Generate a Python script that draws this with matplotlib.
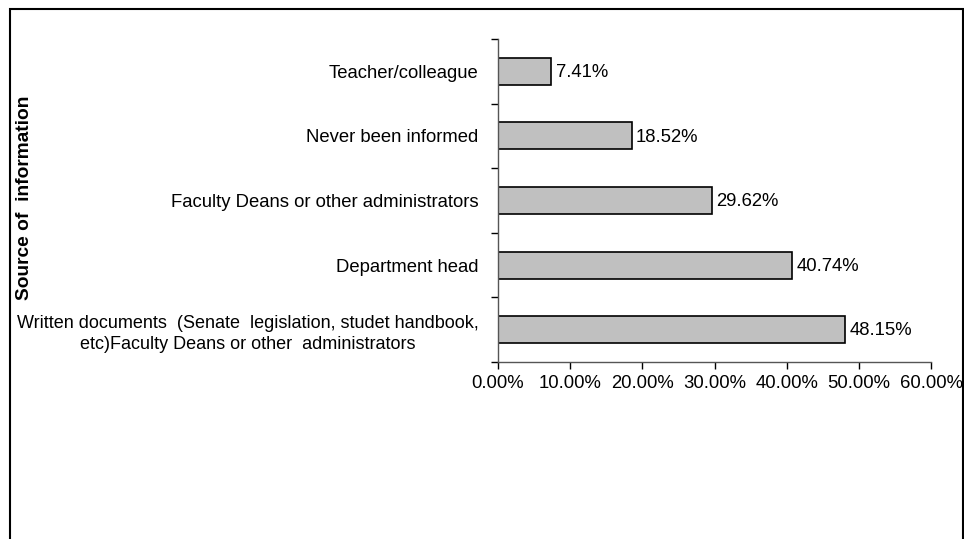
import matplotlib
matplotlib.use("Agg")
import matplotlib.pyplot as plt
from matplotlib.patches import Rectangle
from matplotlib.ticker import FuncFormatter, MultipleLocator

categories = [
    "Written documents  (Senate  legislation, studet handbook,\netc)Faculty Deans or other  administrators",
    "Department head",
    "Faculty Deans or other administrators",
    "Never been informed",
    "Teacher/colleague",
]
values = [48.15, 40.74, 29.62, 18.52, 7.41]
value_labels = ["48.15%", "40.74%", "29.62%", "18.52%", "7.41%"]

plt.rcParams['font.family'] = ['Liberation Sans', 'DejaVu Sans']
fs = 13.3

fig = plt.figure(figsize=(9.64, 5.39), dpi=100)
ax = fig.add_axes([498/964, 1-362/539, (931-498)/964, (362-39)/539])

y = range(len(categories))
ax.barh(list(y), values, height=0.42, color="#c0c0c0", edgecolor="black", linewidth=1.2)
for i, (v, lab) in enumerate(zip(values, value_labels)):
    ax.text(v + 0.6, i - 0.02, lab, va="center", ha="left", fontsize=fs)

ax.set_xlim(0, 60)
ax.set_ylim(-0.5, len(categories) - 0.5)
ax.xaxis.set_major_locator(MultipleLocator(10))
ax.xaxis.set_major_formatter(FuncFormatter(lambda x, p: f"{x:.2f}%"))
ax.set_yticks(list(y))
ax.set_yticklabels(categories, fontsize=fs, multialignment="center", linespacing=1.35)
ax.get_yticklabels()[0].set_fontsize(13.0)
ax.set_yticks([i - 0.5 for i in range(len(categories) + 1)], minor=True)
ax.tick_params(axis="y", which="major", length=0, pad=14)
ax.tick_params(axis="y", which="minor", length=5, width=1, direction="out")
ax.tick_params(axis="x", which="major", length=5, width=1, direction="out", labelsize=fs, pad=4)
for s in ["top", "right"]:
    ax.spines[s].set_visible(False)
for s in ["left", "bottom"]:
    ax.spines[s].set_linewidth(1)
    ax.spines[s].set_color("#555555")

fig.text(25/964, 1-198/539, "Source of  information", rotation=90, fontsize=13.8,
         fontweight="bold", ha="center", va="center")

fig.patches.append(Rectangle((9.5/964, -0.05), (963-9.5)/964, 1.05 - 8.5/539,
                             transform=fig.transFigure, fill=False, edgecolor="black",
                             linewidth=1.5))

fig.savefig("out.png", dpi=100)
